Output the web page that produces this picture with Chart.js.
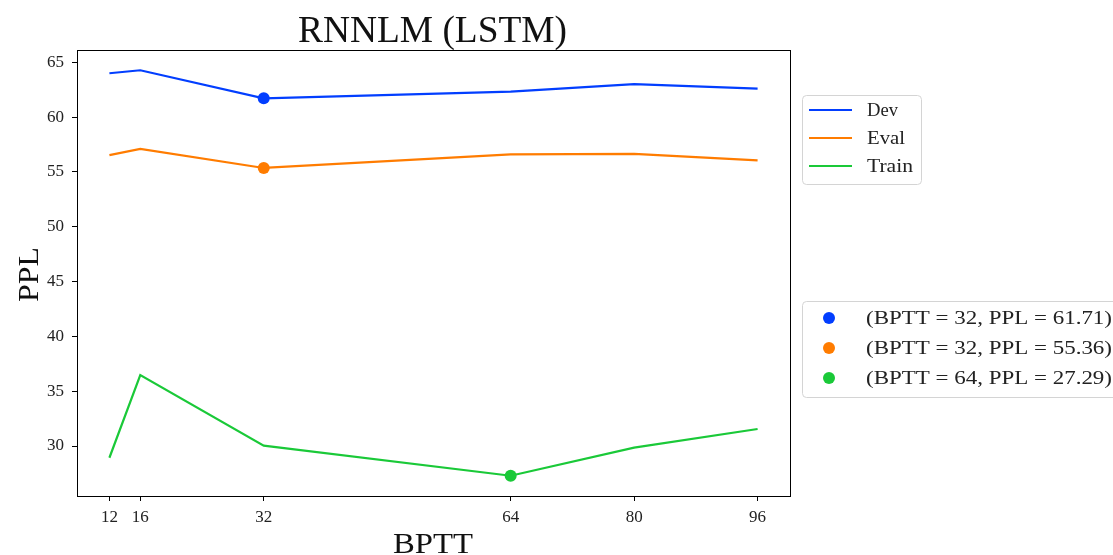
<!DOCTYPE html>
<html>
<head>
<meta charset="utf-8">
<script src="https://cdn.jsdelivr.net/npm/chart.js@4/dist/chart.umd.min.js"></script>
<style>
html,body{margin:0;padding:0;background:#fff;}
#wrap{width:1113px;height:555px;position:relative;}
</style>
</head>
<body>
<div id="wrap"><canvas id="c" width="1113" height="555"></canvas></div>
<script>
const bptt = [12, 16, 32, 64, 80, 96];
const devPPL = [64.0, 64.27, 61.71, 62.33, 63.0, 62.6];
const evalPPL = [56.53, 57.1, 55.36, 56.6, 56.65, 56.05];
const trainPPL = [28.93, 36.47, 30.03, 27.29, 29.85, 31.55];
const bestBPTT = [32, 32, 64];
const bestPPL = [61.71, 55.36, 27.29];
const seriesNames = ['Dev', 'Eval', 'Train'];
const colors = ['#023eff', '#ff7c00', '#1ac938'];
const xTicks = [12, 16, 32, 64, 80, 96];
const yTicks = [30, 35, 40, 45, 50, 55, 60, 65];
const titleText = 'RNNLM (LSTM)';
const xLabel = 'BPTT';
const yLabel = 'PPL';

const FONT = '"Liberation Serif", "DejaVu Serif", serif';

function pts(xs, ys){ return xs.map((x,i)=>({x:x, y:ys[i]})); }

const seriesData = [devPPL, evalPPL, trainPPL];
const datasets = [];
seriesData.forEach((s,i)=>{
  datasets.push({label: seriesNames[i], data: pts(bptt, s), borderColor: colors[i], backgroundColor: colors[i],
    borderWidth: 2.2, pointRadius: 0, showLine: true, tension: 0, order: 2});
});
bestBPTT.forEach((b,i)=>{
  datasets.push({label: '(BPTT = ' + b + ', PPL = ' + bestPPL[i].toFixed(2) + ')', data: [{x:b, y:bestPPL[i]}],
    borderColor: colors[i], backgroundColor: colors[i], pointRadius: 6, pointBorderWidth: 0, showLine: false, order: 1});
});

const xMin = 12 - 0.05*(96-12), xMax = 96 + 0.05*(96-12);
const yLo = Math.min(...trainPPL), yHi = Math.max(...devPPL);
const yMin = yLo - 0.05*(yHi-yLo), yMax = yHi + 0.05*(yHi-yLo);

function fitText(ctx, text, x, y, width){
  const w = ctx.measureText(text).width;
  const s = width / w;
  ctx.save(); ctx.translate(x, y); ctx.scale(s, 1); ctx.fillText(text, 0, 0); ctx.restore();
}

const decor = {
  id: 'decor',
  afterDraw(chart){
    const ctx = chart.ctx, a = chart.chartArea;
    ctx.save();
    ctx.strokeStyle = '#000'; ctx.lineWidth = 1;
    ctx.strokeRect(Math.round(a.left)+0.5, Math.round(a.top)+0.5, Math.round(a.right-a.left), Math.round(a.bottom-a.top));
    ctx.fillStyle = '#111';
    ctx.textAlign = 'left'; ctx.textBaseline = 'alphabetic';
    ctx.font = '37px ' + FONT;
    fitText(ctx, titleText, 298, 42, 269);
    ctx.font = '30px ' + FONT;
    fitText(ctx, xLabel, 393, 553, 80);
    ctx.save();
    ctx.translate(38, 302);
    ctx.rotate(-Math.PI/2);
    fitText(ctx, yLabel, 0, 0, 55);
    ctx.restore();

    function box(x,y,w,h,r){
      ctx.beginPath();
      ctx.moveTo(x+r,y); ctx.lineTo(x+w-r,y); ctx.quadraticCurveTo(x+w,y,x+w,y+r);
      ctx.lineTo(x+w,y+h-r); ctx.quadraticCurveTo(x+w,y+h,x+w-r,y+h);
      ctx.lineTo(x+r,y+h); ctx.quadraticCurveTo(x,y+h,x,y+h-r);
      ctx.lineTo(x,y+r); ctx.quadraticCurveTo(x,y,x+r,y);
      ctx.closePath();
      ctx.fillStyle = 'rgba(255,255,255,0.8)'; ctx.fill();
      ctx.strokeStyle = '#d4d4d4'; ctx.lineWidth = 1; ctx.stroke();
    }
    // legend 1
    box(802.5, 95.5, 119, 89, 4);
    ctx.textAlign = 'left'; ctx.textBaseline = 'middle';
    ctx.font = '19px ' + FONT;
    const ly = [110, 138, 166];
    const lw = [31, 38, 46];
    seriesNames.forEach((n,i)=>{
      ctx.strokeStyle = colors[i]; ctx.lineWidth = 2.2;
      ctx.beginPath(); ctx.moveTo(809, ly[i]); ctx.lineTo(852, ly[i]); ctx.stroke();
      ctx.fillStyle = '#222'; fitText(ctx, n, 867, ly[i]+1, lw[i]);
    });
    // legend 2
    box(802.5, 301.5, 330, 96, 4);
    const my = [318, 348, 378];
    bestBPTT.forEach((b,i)=>{
      ctx.fillStyle = colors[i];
      ctx.beginPath(); ctx.arc(829, my[i], 6, 0, Math.PI*2); ctx.fill();
      ctx.fillStyle = '#222';
      fitText(ctx, '(BPTT = ' + b + ', PPL = ' + bestPPL[i].toFixed(2) + ')', 866, my[i]+1, 246);
    });
    ctx.restore();
  }
};

new Chart(document.getElementById('c'), {
  type: 'line',
  data: { datasets },
  plugins: [decor],
  options: {
    responsive: false,
    animation: false,
    events: [],
    layout: { padding: { left: 0, right: 323, top: 50, bottom: 0 } },
    plugins: { legend: { display: false }, title: { display: false }, tooltip: { enabled: false } },
    scales: {
      x: {
        type: 'linear', min: xMin, max: xMax,
        afterBuildTicks(s){ s.ticks = xTicks.map(v=>({value:v})); },
        afterFit(s){ s.height = 59; },
        border: { display: false },
        grid: { display: true, drawOnChartArea: false, drawTicks: true, tickLength: 5, color: '#000', lineWidth: 1 },
        ticks: { color: '#222', font: { family: FONT, size: 17 }, padding: 6, maxRotation: 0, autoSkip: false }
      },
      y: {
        type: 'linear', min: yMin, max: yMax,
        afterBuildTicks(s){ s.ticks = yTicks.map(v=>({value:v})); },
        afterFit(s){ s.width = 77; },
        border: { display: false },
        grid: { display: true, drawOnChartArea: false, drawTicks: true, tickLength: 5, color: '#000', lineWidth: 1 },
        ticks: { color: '#222', font: { family: FONT, size: 17 }, padding: 8 }
      }
    }
  }
});
</script>
</body>
</html>
